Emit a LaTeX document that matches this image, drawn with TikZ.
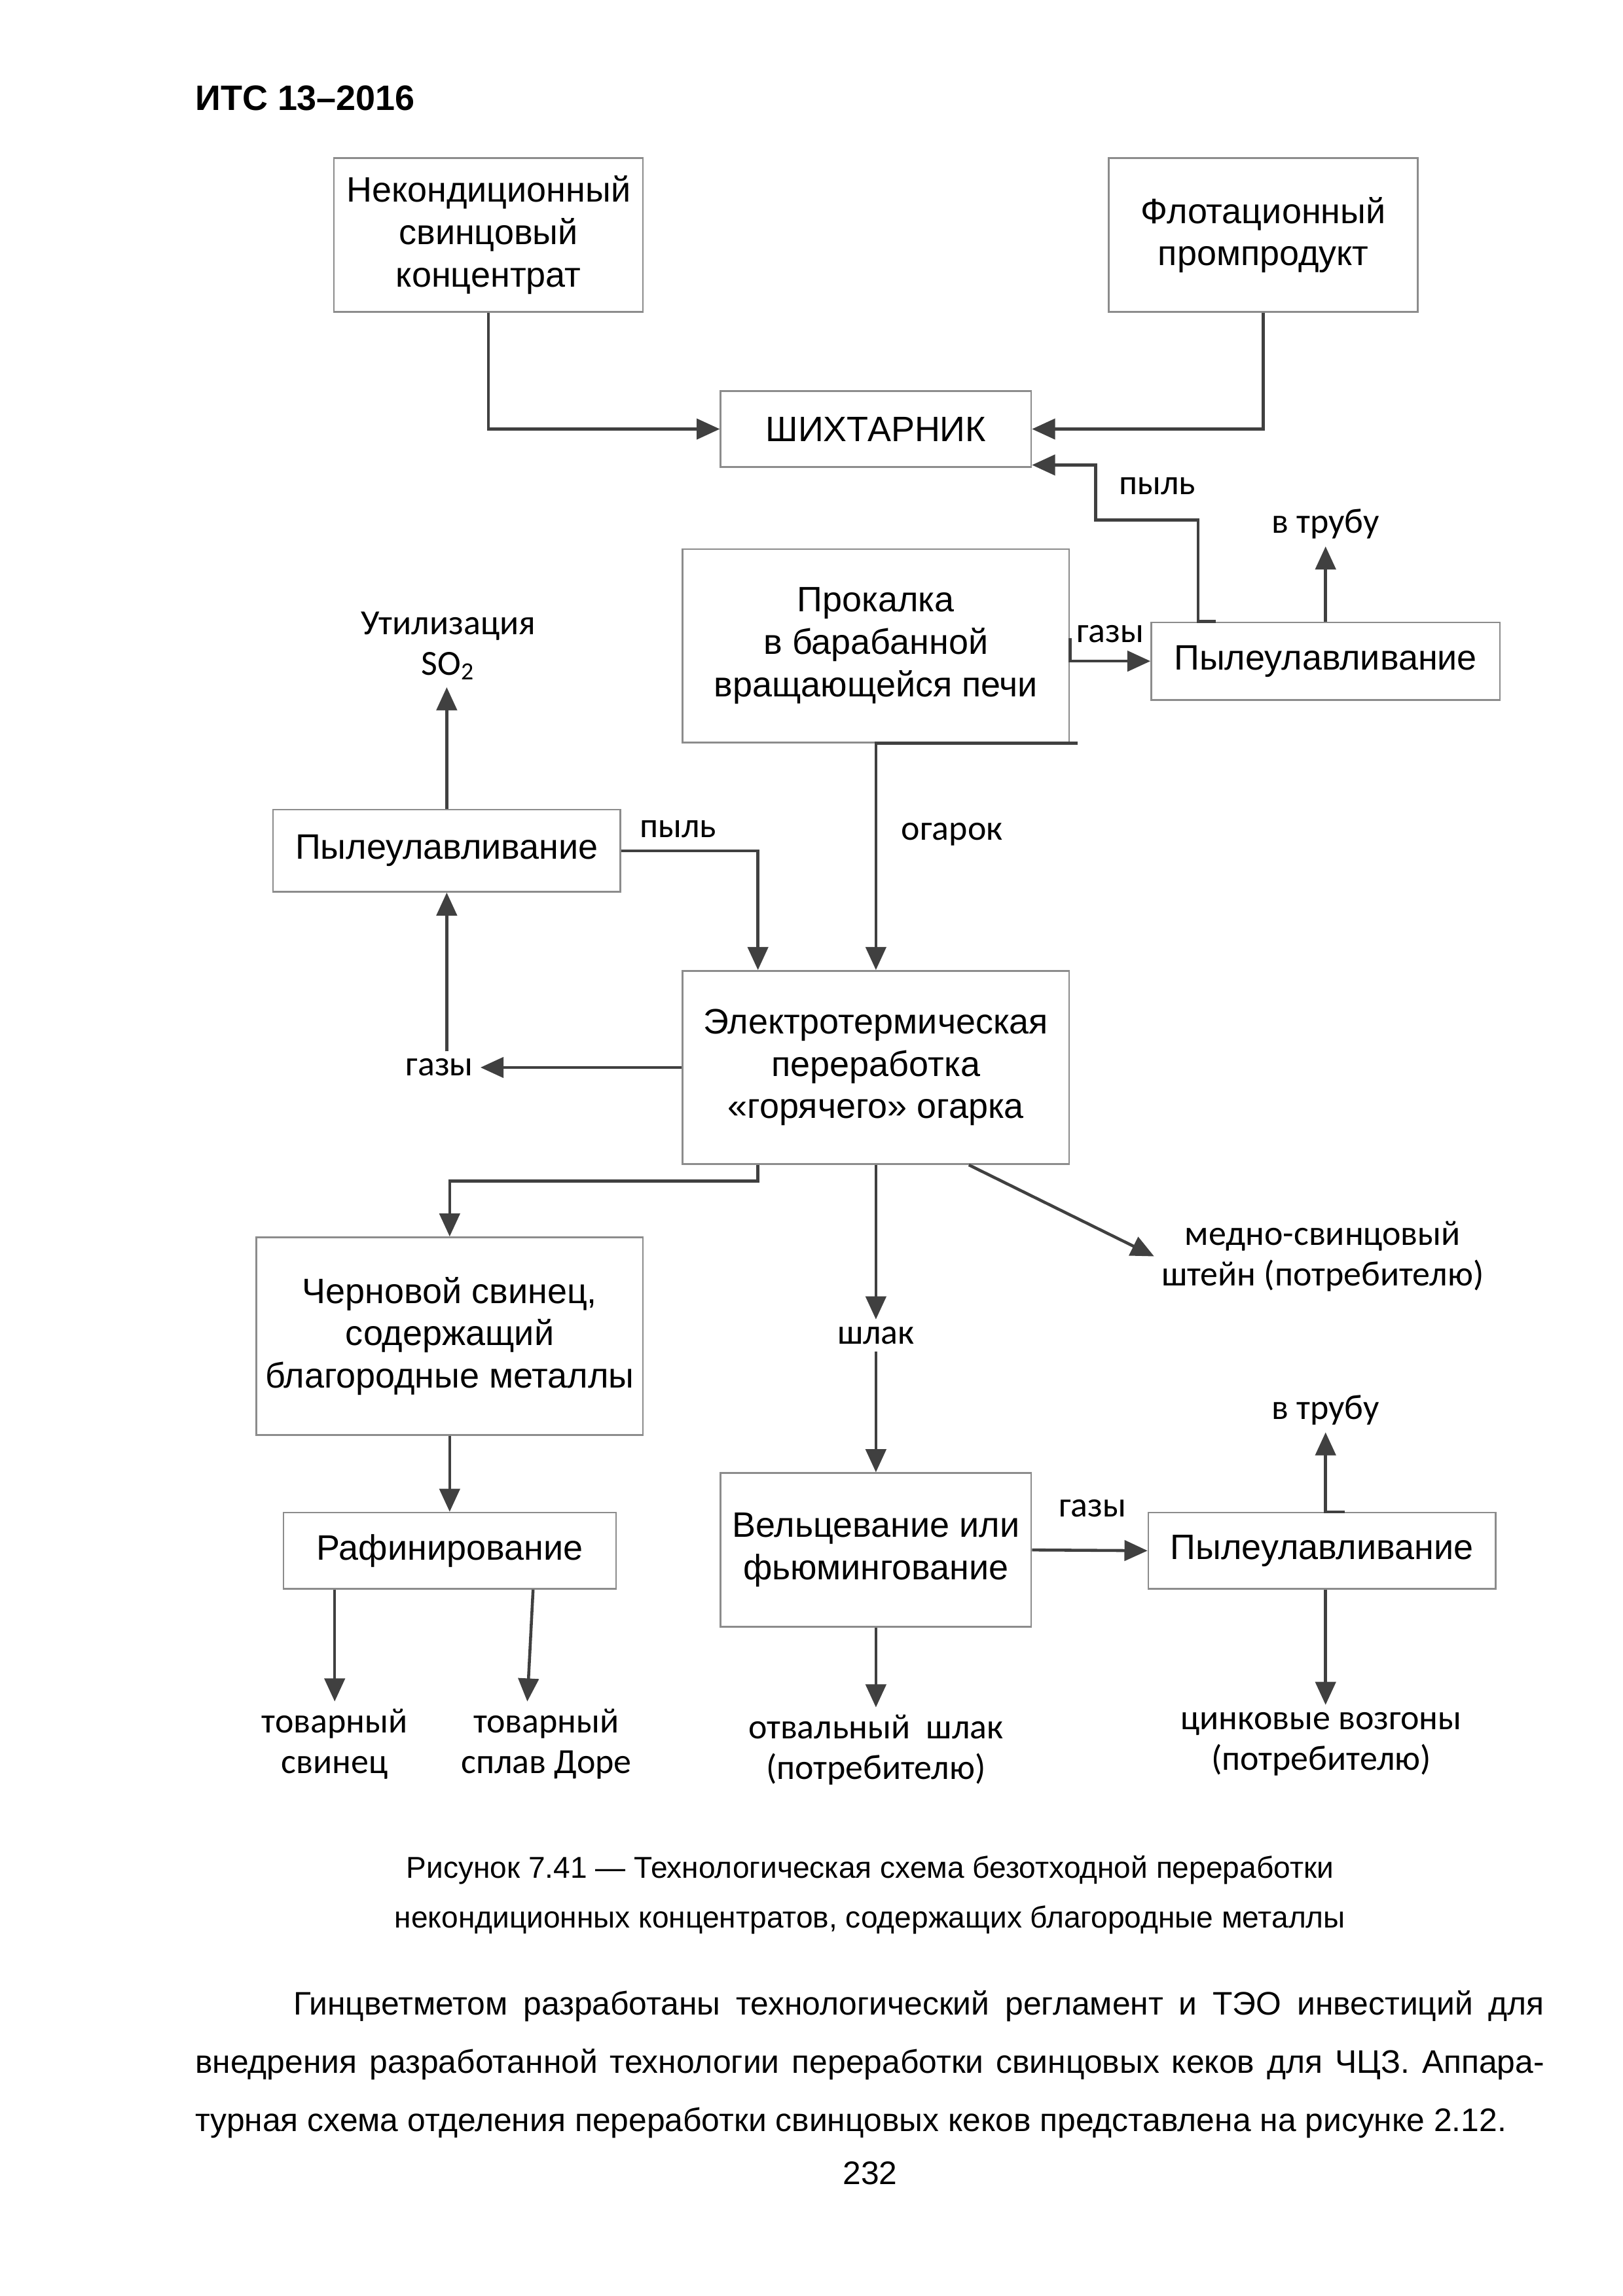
\documentclass[tikz,border=0pt]{standalone}
\usepackage{fontspec}
\setmainfont{Liberation Sans}
\newfontfamily\calibri{Carlito}
\usetikzlibrary{arrows.meta,calc}

\definecolor{ramka}{HTML}{8C8C8C}
\definecolor{strelka}{HTML}{404040}
\newcommand{\pxu}{0.018953cm}

\tikzset{
  blok/.style={draw=ramka, line width=0.6pt, align=center, inner sep=0pt,
    font=\fontsize{13}{15.6}\selectfont},
  razmer/.style 2 args={minimum width=#1*\pxu, minimum height=#2*\pxu},
  metka/.style={align=center, inner sep=2.5pt, font=\calibri\fontsize{13}{15}\selectfont},
  strel/.style={draw=strelka, line width=1.1pt, -{Triangle[length=8.5pt,width=7.5pt]}}
}

\begin{document}
\begin{tikzpicture}[x=0.018953cm, y=-0.018953cm]
\useasboundingbox (0,0) rectangle (1108,1568);
%header of the page
\node[anchor=west, inner sep=0pt, font=\bfseries\fontsize{13}{15}\selectfont] (shapka) at (133,67) {ИТС 13–2016};

% boxes of the scheme, row by row
\node[blok, razmer={211}{105}] (konc) at (333.5,160.5) {Некондиционный\\свинцовый\\концентрат};
\node[blok, razmer={211}{105}] (flot) at (862.5,160.5) {Флотационный\\промпродукт};
\node[blok, razmer={212}{52}] (shikh) at (598,293) {ШИХТАРНИК};
\node[blok, razmer={264}{132}] (prok) at (598,441) {Прокалка\\в барабанной\\вращающейся печи};
\node[blok, razmer={238}{53}] (pyl1) at (905,451.5) {Пылеулавливание};
\node[blok, razmer={237}{56}] (pyl2) at (305,581) {Пылеулавливание};
\node[blok, razmer={264}{132}] (elek) at (598,729) {Электротермическая\\переработка\\«горячего» огарка};
\node[blok, razmer={264}{135}] (chern) at (307,912.5) {Черновой свинец,\\содержащий\\благородные металлы};
\node[blok, razmer={227}{52}] (raf) at (307,1059) {Рафинирование};
\node[blok, razmer={212}{105}] (velc) at (598,1058.5) {Вельцевание или\\фьюмингование};
\node[blok, razmer={237}{52}] (pyl3) at (902.5,1059) {Пылеулавливание};

% labels of the flows
\node[metka] (pylv) at (790,332) {пыль};
\node[metka] (trub1) at (905,358) {в трубу};
\node[metka] (gaz1) at (758,433) {газы};
\node[metka] (util) at (306,441) {Утилизация\\SO\textsubscript{2}};
\node[metka] (pyll) at (463,566) {пыль};
\node[metka] (ogar) at (650,570) {огарок};
\node[metka] (gaz2) at (300,729) {газы};
\node[metka] (medn) at (903,858) {медно-свинцовый\\штейн (потребителю)};
\node[metka] (shlak) at (598,912) {шлак};
\node[metka] (trub2) at (905,963) {в трубу};
\node[metka] (gaz3) at (746,1030) {газы};
\node[metka] (tovs) at (228.5,1191) {товарный\\свинец};
\node[metka] (tovd) at (373,1191) {товарный\\сплав Доре};
\node[metka] (otv) at (598,1195) {отвальный\ \ шлак\\(потребителю)};
\node[metka] (cink) at (902,1191) {цинковые возгоны\\(потребителю)};

% flows
\draw[strel] (konc.south) |- (shikh.west);
\draw[strel] (flot.south) |- (shikh.east);
\draw[strel] ($(pyl1.north)+(-75,0)$) -- ++(-12,0) |- (748,355) |- ($(shikh.south east)+(0,-2)$);
\draw[strel] (pyl1.north) -- (trub1.south);
\draw[strel] ($(prok.east)+(0,-5)$) |- (pyl1.west);
\draw[strel] ($(prok.south east)+(5,0)$) -- (prok.south) -- (elek.north);
\draw[strel] (pyl2.north) -- (pyl2.north |- util.south);
\draw[strel] (pyl2.east) -| ($(elek.north west)+(52,0)$);
\draw[strel] (elek.west) -- (gaz2.east);
\draw[strel] (gaz2.north -| pyl2.south) -- (pyl2.south);
\draw[strel] ($(elek.south west)+(52,0)$) -- ++(0,11) -| (chern.north);
\draw[strel] (elek.south) -- (shlak.north);
\draw[strel] (shlak.south) -- (velc.north);
\draw[strel] ($(elek.south west)+(196,0)$) -- (medn.west);
\draw[strel] (chern.south) -- (raf.north);
\draw[strel] (tovs.north |- raf.south) -- (tovs.north);
\draw[strel] ($(raf.south west)+(171,0)$) -- ($(tovd.north)+(-13,0)$);
\draw[strel] (velc.south) -- (otv.north);
\draw[strel] (velc.east) -- (pyl3.west);
\draw[strel] ($(trub2.south |- pyl3.north)+(13,0)$) -- (trub2.south |- pyl3.north) -- (trub2.south);
\draw[strel] (trub2.south |- pyl3.south) -- (trub2.south |- cink.north);

% caption and text of the page
\node[font=\fontsize{11.1}{13}\selectfont] (podp1) at (594,1277) {Рисунок 7.41 — Технологическая схема безотходной переработки};
\node[font=\fontsize{11.1}{13}\selectfont] (podp2) at (594,1311) {некондиционных концентратов, содержащих благородные металлы};
\node[anchor=north west, inner sep=0pt, text width=921*\pxu, align=justify,
  font=\fontsize{12}{21.5}\selectfont] (abzac) at (133,1359)
  {\hspace*{1.27cm}Гинцветметом разработаны технологический регламент и ТЭО инвестиций для\linebreak
  внедрения разработанной технологии переработки свинцовых кеков для ЧЦЗ. Аппара-\linebreak
  турная схема отделения переработки свинцовых кеков представлена на рисунке 2.12.};
\node[font=\fontsize{12}{14}\selectfont] (stran) at (594,1484) {232};
\end{tikzpicture}
\end{document}
